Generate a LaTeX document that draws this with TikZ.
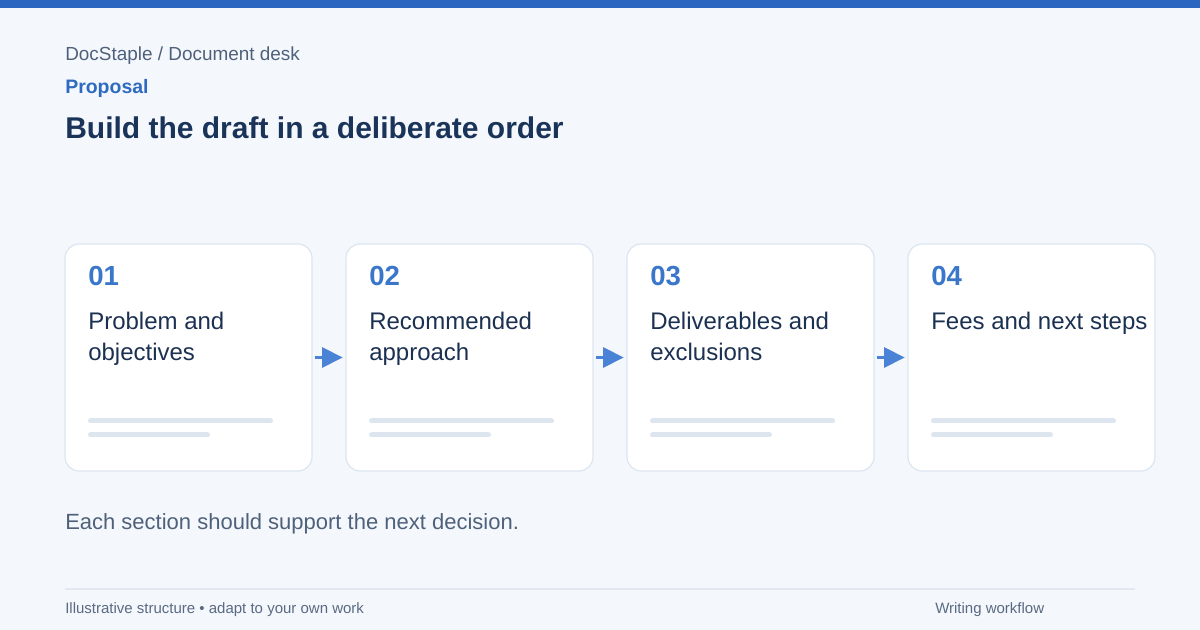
\documentclass[tikz,border=0pt]{standalone}
\usepackage{fontspec}
\setmainfont{Liberation Sans}
\usetikzlibrary{arrows.meta}
\definecolor{bg}{HTML}{F4F8FD}
\definecolor{topbar}{HTML}{2B67C0}
\definecolor{crumb}{HTML}{4F617A}
\definecolor{kicker}{HTML}{2E6BC0}
\definecolor{navy}{HTML}{1A3358}
\definecolor{numblue}{HTML}{3A77CB}
\definecolor{cardtxt}{HTML}{1C3152}
\definecolor{cardline}{HTML}{DCE5F0}
\definecolor{barcol}{HTML}{DDE5EF}
\definecolor{arrowcol}{HTML}{4A82D6}
\definecolor{rule}{HTML}{E1E8F1}
\definecolor{foot}{HTML}{5A6A82}
\tikzset{
  card/.style={draw=cardline, line width=0.9pt, fill=white, rounded corners=10.5pt,
    minimum width=185.25pt, minimum height=170.25pt, inner sep=0pt},
  num/.style={anchor=base west, inner sep=0pt, text=numblue, font=\fontsize{20.7pt}{24pt}\selectfont\bfseries},
  ctitle/.style={anchor=base west, inner sep=0pt, text=cardtxt, align=left, font=\fontsize{18pt}{23.25pt}\selectfont},
  bar/.style={draw=barcol, line width=3.75pt, line cap=round},
  flow/.style={draw=arrowcol, line width=2.2pt, -{Triangle[length=15.5pt,width=15pt]}, shorten <=1.5pt, shorten >=2pt},
  txt/.style={anchor=base west, inner sep=0pt}
}
\begin{document}
\begin{tikzpicture}[x=0.75pt,y=-0.75pt]
\fill[bg] (0,0) rectangle (1200,630);
\useasboundingbox (0,0) rectangle (1200,630);
\fill[topbar] (0,0) rectangle (1200,8);
\node[txt, text=crumb, font=\fontsize{14.2pt}{17pt}\selectfont] (crumb) at (65,61) {DocStaple / Document desk};
\node[txt, text=kicker, font=\fontsize{14.6pt}{17pt}\selectfont\bfseries] (kick) at (65,94) {Proposal};
\node[txt, text=navy, font=\fontsize{22.5pt}{27pt}\selectfont\bfseries] (title) at (65,139) {Build the draft in a deliberate order};
% cards
\foreach \i/\x/\n/\ty/\t in {1/65/01/361/{Problem and\\objectives},2/346/02/361/{Recommended\\approach},3/627/03/361/{Deliverables and\\exclusions},4/908/04/330/{Fees and next steps}}{
  \node[card] (c\i) at (\x+123.5,357.5) {};
  \node[num] (n\i) at (\x+23,286) {\n};
  \node[ctitle] (t\i) at (\x+23,\ty) {\t};
  \draw[bar] (\x+25.5,421) -- (\x+205.5,421);
  \draw[bar] (\x+25.5,435) -- (\x+142.5,435);
}
\draw[flow] (c1.east) -- (c2.west);
\draw[flow] (c2.east) -- (c3.west);
\draw[flow] (c3.east) -- (c4.west);
\node[txt, text=crumb, font=\fontsize{16.5pt}{20pt}\selectfont] (note) at (65,530) {Each section should support the next decision.};
\coordinate (r1) at (65,589);
\coordinate (r2) at (1135,589);
\draw[rule, line width=1.1pt] (r1) -- (r2);
\node[txt, text=foot, font=\fontsize{11.25pt}{14pt}\selectfont] (f1) at (65,614) {Illustrative structure • adapt to your own work};
\node[txt, text=foot, font=\fontsize{11.25pt}{14pt}\selectfont] (f2) at (935,614) {Writing workflow};
\end{tikzpicture}
\end{document}
